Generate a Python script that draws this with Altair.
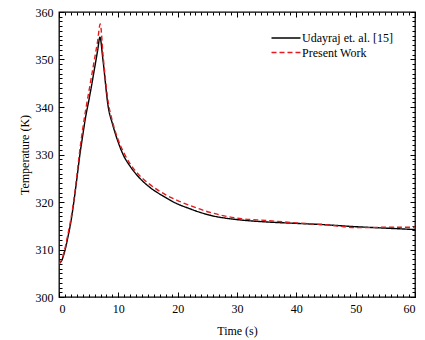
import altair as alt
import pandas as pd

# ---- data ----
names = ["Udayraj et. al. [15]", "Present Work"]

t_ud = [0, 0.5, 1, 1.5, 2, 2.5, 3, 3.5, 4, 4.5, 5, 5.5, 6, 6.5, 6.9, 7.4, 8.3, 9, 10,
        10.8, 12, 13.4, 15, 17.9, 19.3, 22, 25.5, 30, 35, 40, 45, 50, 55, 60]
T_ud = [307, 307.8, 309.8, 312.6, 315.8, 320, 324.8, 329.8, 334, 338, 341.2, 344.6,
        348.2, 351.8, 354.7, 350, 340, 336.5, 332.5, 330, 327.5, 325.3, 323.4, 321.0,
        320.0, 318.6, 317.2, 316.3, 315.8, 315.5, 315.2, 314.8, 314.5, 314.2]

t_pw = [0, 0.5, 1, 1.5, 2, 2.5, 3, 3.5, 4, 4.5, 5, 5.5, 6, 6.5, 6.95, 7.45, 8.3, 9, 10,
        11, 12, 13.4, 15, 18, 20, 22, 25.5, 30, 35, 40, 45, 48, 50, 52, 55, 60]
T_pw = [307, 308, 310.2, 313.2, 316.4, 320.4, 325.4, 330.8, 335.4, 339.4, 343, 346.6,
        350.2, 353.8, 357.5, 350.5, 341, 337, 333, 330.2, 328, 325.8, 324, 321.5,
        320.3, 319.3, 317.8, 316.6, 316.1, 315.6, 315.2, 314.8, 314.6, 314.6, 314.7, 314.7]

x_major = [0, 10, 20, 30, 40, 50, 60]
x_minor = list(range(0, 61))
y_major = [300, 310, 320, 330, 340, 350, 360]
y_minor = list(range(300, 361))

rows = [{"t": a, "T": b, "series": names[0]} for a, b in zip(t_ud, T_ud)]
rows += [{"t": a, "T": b, "series": names[1]} for a, b in zip(t_pw, T_pw)]
df = pd.DataFrame(rows)

FONT = "Liberation Serif"
xs = alt.Scale(domain=[0, 60], nice=False, zero=False)
ys = alt.Scale(domain=[300, 360], nice=False, zero=False)


def axis(orient, values, size, labels, title=None, title_pad=4):
    kw = dict(orient=orient, values=values, tickSize=size, offset=-size,
              labels=labels, domain=False, grid=False, ticks=True,
              tickColor="black", tickWidth=1)
    if labels:
        kw.update(labelFont=FONT, labelFontSize=12, labelColor="black",
                  labelPadding=6, format="d")
    if title:
        kw.update(title=title, titleFont=FONT, titleFontSize=12,
                  titleFontWeight="normal", titleColor="black",
                  titlePadding=title_pad)
    else:
        kw.update(title=None)
    return alt.Axis(**kw)


leg = alt.Legend(title=None, orient="none", legendX=219, legendY=18,
                 labelFont=FONT, labelFontSize=12, labelColor="black",
                 symbolType="M-2,0H2", symbolSize=210, symbolStrokeWidth=1.4,
                 labelOffset=8, rowPadding=0.5, padding=0)

lines = alt.Chart(df).mark_line(strokeWidth=1.4, clip=True, interpolate="monotone").encode(
    x=alt.X("t:Q", scale=xs, axis=axis("bottom", x_major, 5, True, "Time (s)", 11)),
    y=alt.Y("T:Q", scale=ys, axis=axis("left", y_major, 5, True, "Temperature (K)", 4)),
    color=alt.Color("series:N", sort=names,
                    scale=alt.Scale(domain=names, range=["black", "#e41a1c"]),
                    legend=leg),
    strokeDash=alt.StrokeDash("series:N", sort=names,
                              scale=alt.Scale(domain=names, range=[[1, 0], [5, 3]]),
                              legend=leg),
)


def ghost(xax, yax):
    return alt.Chart(df).mark_line(opacity=0).encode(
        x=alt.X("t:Q", scale=xs, axis=xax),
        y=alt.Y("T:Q", scale=ys, axis=yax),
        detail="series:N",
    )


g1 = ghost(axis("bottom", x_minor, 3, False), axis("left", y_minor, 3, False))
g2 = ghost(axis("top", x_major, 5, False), axis("right", y_major, 5, False))
g3 = ghost(axis("top", x_minor, 3, False), axis("right", y_minor, 3, False))

chart = alt.layer(lines, g1, g2, g3).resolve_axis(
    x="independent", y="independent"
).properties(
    width=356, height=285,
    padding={"left": 59, "top": 12, "right": 10, "bottom": 43},
    autosize=alt.AutoSizeParams(type="none"),
    background="white",
).configure_view(stroke="black", strokeWidth=1.3)

chart.save("out.html", embed_options={"renderer": "svg", "actions": False})
